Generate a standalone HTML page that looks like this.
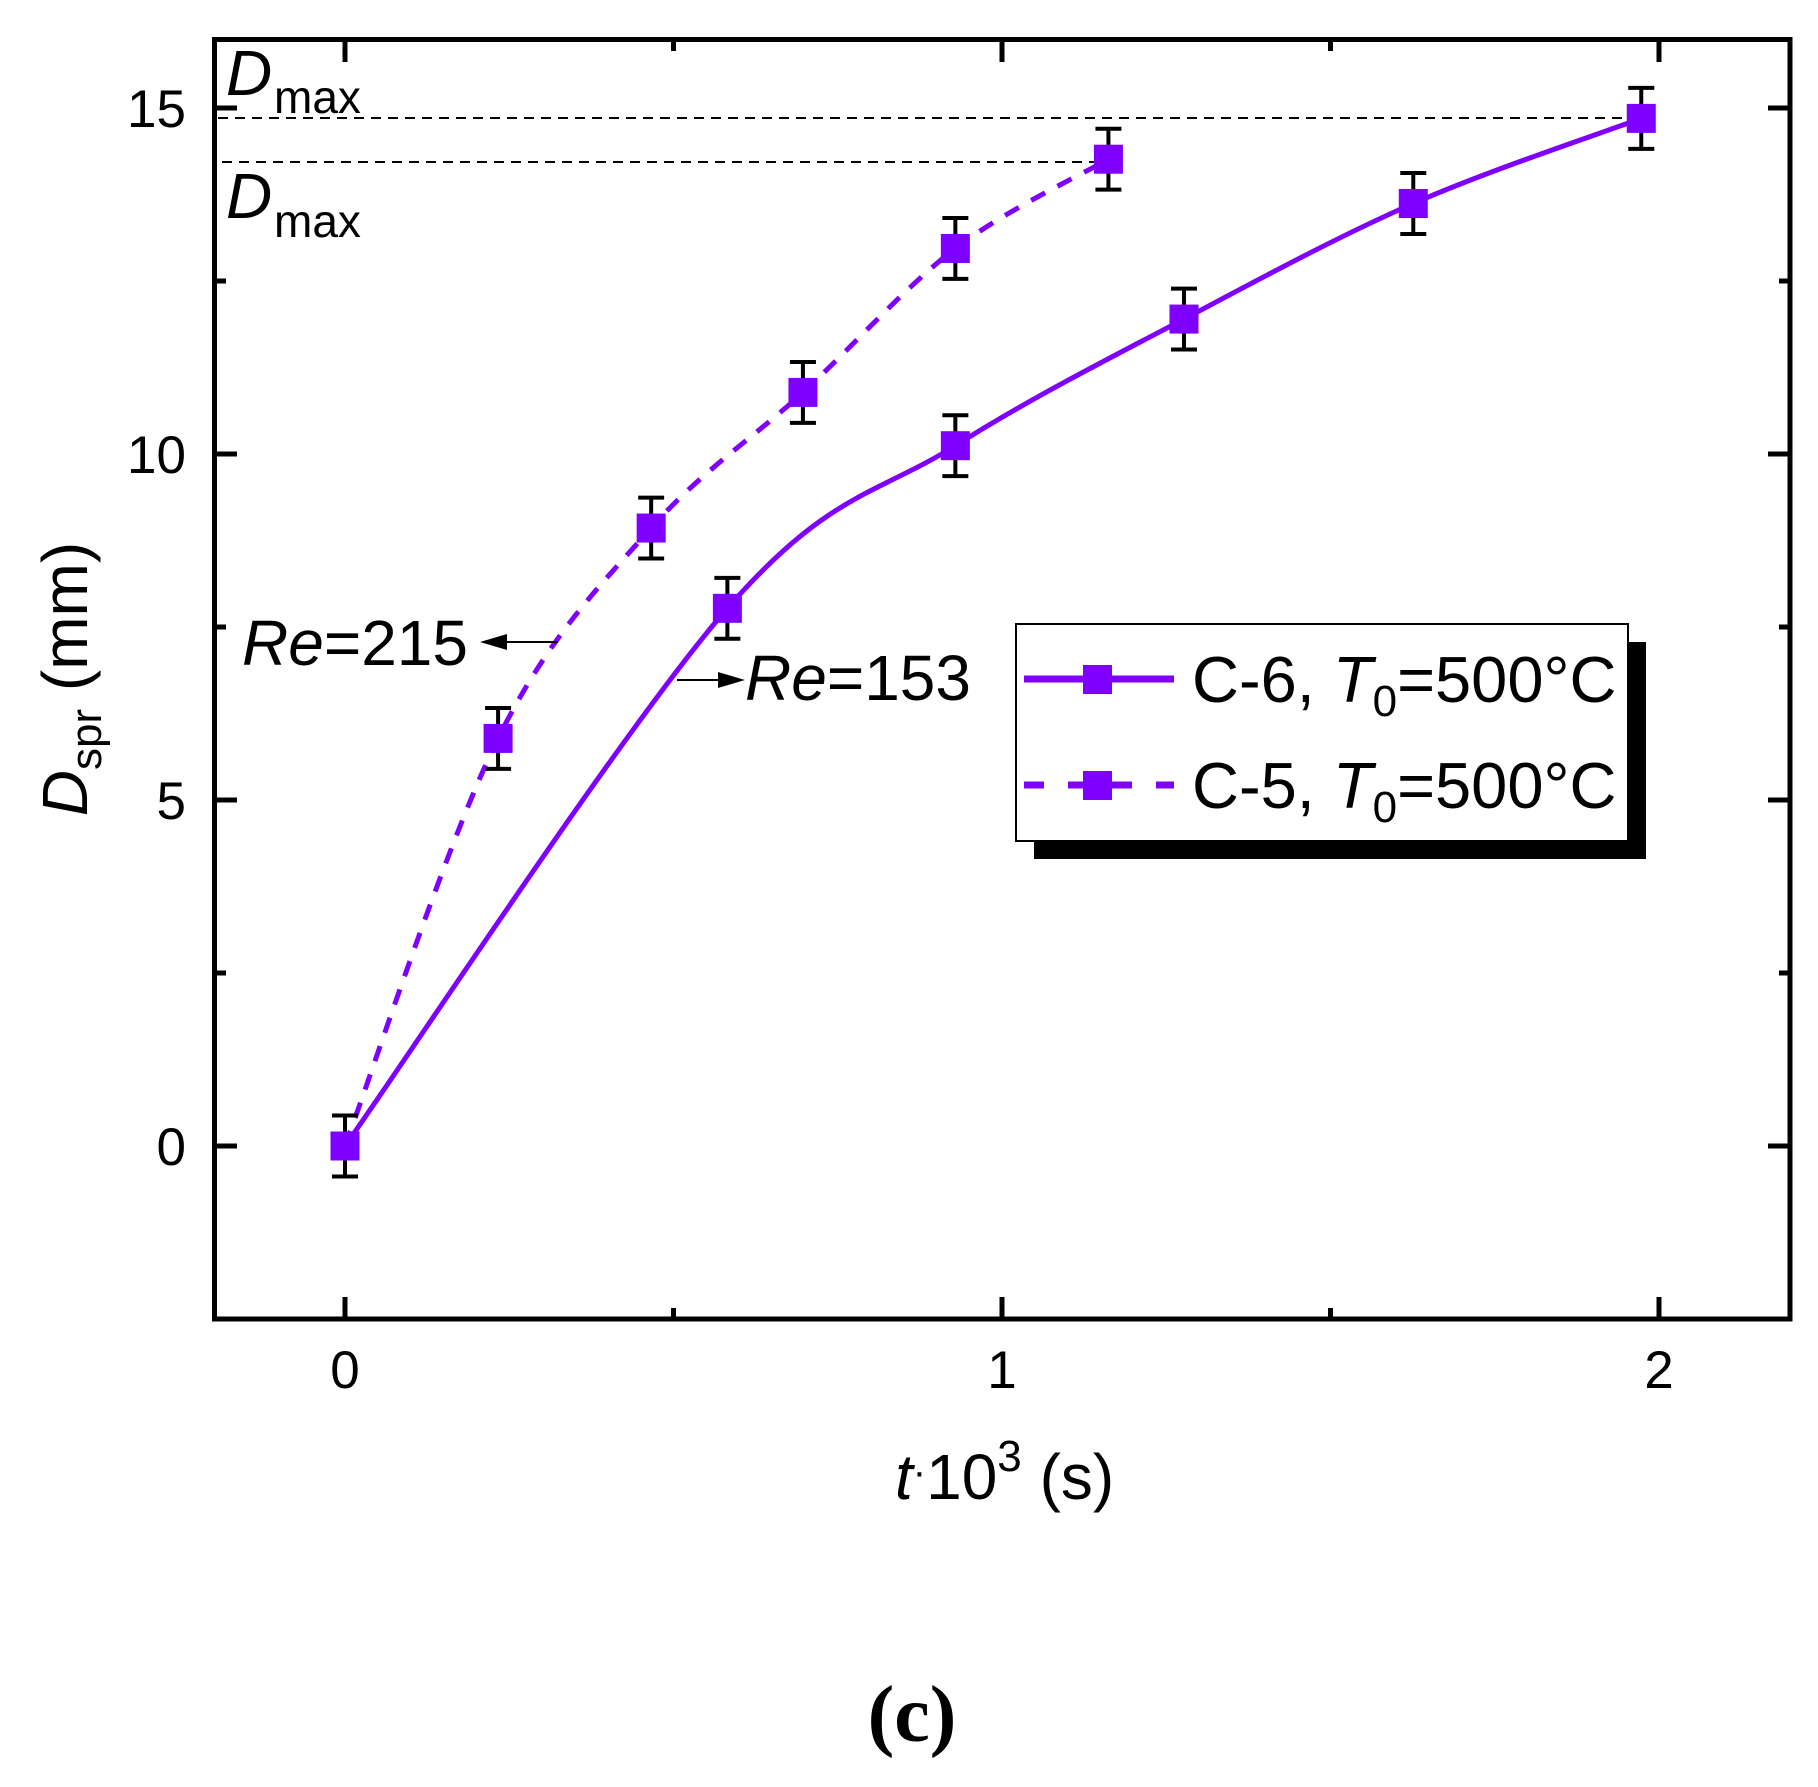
<!DOCTYPE html>
<html><head><meta charset="utf-8"><style>
html,body{margin:0;padding:0;background:#fff}
svg{display:block}
text{font-family:"Liberation Sans",Arial,sans-serif;fill:#000}
</style></head><body>
<svg id="s" width="1818" height="1787" viewBox="0 0 1818 1787" xmlns="http://www.w3.org/2000/svg">
<rect width="1818" height="1787" fill="#fff"/>
<!-- dashed Dmax lines -->
<line x1="218" y1="118" x2="1630" y2="118" stroke="#000" stroke-width="2" stroke-dasharray="10,7"/>
<line x1="222" y1="162" x2="1095" y2="162" stroke="#000" stroke-width="2" stroke-dasharray="10,7"/>
<g id="curves"></g>
<g id="pts"></g>
<!-- frame -->
<rect x="214.5" y="39.5" width="1575.5" height="1279.5" fill="none" stroke="#000" stroke-width="5"/>
<g stroke="#000" stroke-width="5" id="ticks"></g>
<!-- tick labels -->
<g font-size="53" text-anchor="end">
<text x="186" y="1165">0</text>
<text x="186" y="819">5</text>
<text x="186" y="473">10</text>
<text x="186" y="127">15</text>
</g>
<g font-size="53" text-anchor="middle">
<text x="345" y="1388">0</text>
<text x="1002" y="1388">1</text>
<text x="1659" y="1388">2</text>
</g>
<!-- Dmax labels -->
<text x="226" y="95" font-size="64" font-style="italic">D</text>
<text x="274" y="113" font-size="46">max</text>
<text x="226" y="218" font-size="64" font-style="italic">D</text>
<text x="274" y="237" font-size="46">max</text>
<!-- axis titles -->
<text x="895" y="1499" font-size="64"><tspan font-style="italic">t</tspan><tspan font-size="40" dy="-14">·</tspan><tspan dy="14">10</tspan><tspan font-size="44" dy="-28">3</tspan><tspan dy="28"> (s)</tspan></text>
<text transform="translate(87,679) rotate(-90)" text-anchor="middle" font-size="64"><tspan font-style="italic">D</tspan><tspan font-size="44" dy="14">spr</tspan><tspan dy="-14"> (mm)</tspan></text>
<text x="912" y="1741" font-size="80" text-anchor="middle" style="font-family:'Liberation Serif',serif;font-weight:bold">(c)</text>
<!-- Re annotations -->
<text x="242" y="665" font-size="64"><tspan font-style="italic">Re</tspan>=215</text>
<line x1="500" y1="642" x2="558" y2="642" stroke="#000" stroke-width="2"/>
<polygon points="480,642 507,634 507,650" fill="#000"/>
<text x="745" y="700" font-size="64"><tspan font-style="italic">Re</tspan>=153</text>
<line x1="677" y1="680" x2="722" y2="680" stroke="#000" stroke-width="2"/>
<polygon points="745,680 718,672 718,688" fill="#000"/>
<!-- legend -->
<rect x="1034" y="642" width="612" height="217" fill="#000"/>
<rect x="1016" y="624" width="612" height="217" fill="#fff" stroke="#000" stroke-width="2"/>
<line x1="1024" y1="679" x2="1174" y2="679" stroke="#7f00ff" stroke-width="7"/>
<rect x="1083" y="665" width="29" height="29" fill="#7f00ff"/>
<line x1="1024" y1="785" x2="1174" y2="785" stroke="#7f00ff" stroke-width="7" stroke-dasharray="20,24"/>
<rect x="1083" y="771" width="29" height="29" fill="#7f00ff"/>
<g font-size="65">
<text x="1192" y="702">C-6, <tspan font-style="italic">T</tspan><tspan font-size="44" dy="14">0</tspan><tspan dy="-14">=500°C</tspan></text>
<text x="1192" y="808">C-5, <tspan font-style="italic">T</tspan><tspan font-size="44" dy="14">0</tspan><tspan dy="-14">=500°C</tspan></text>
</g>
</svg>
<script>
var NS="http://www.w3.org/2000/svg";
function X(v){return 345+657*v}function Y(v){return 1146-69.2*v}
function el(t,a,p){var e=document.createElementNS(NS,t);for(var k in a)e.setAttribute(k,a[k]);p.appendChild(e);return e}
var c6=[[0,0],[0.582,7.77],[0.929,10.12],[1.277,11.95],[1.626,13.62],[1.973,14.85]];
var c5=[[0,0],[0.233,5.89],[0.466,8.93],[0.697,10.89],[0.929,12.97],[1.162,14.26]];
function path(d){var p=d.map(function(q){return[X(q[0]),Y(q[1])]});var s="M"+p[0][0]+","+p[0][1];
for(var i=0;i<p.length-1;i++){var p0=p[i-1]||p[i],p1=p[i],p2=p[i+1],p3=p[i+2]||p2;
var t=6;s+=" C"+(p1[0]+(p2[0]-p0[0])/t)+","+(p1[1]+(p2[1]-p0[1])/t)+" "+(p2[0]-(p3[0]-p1[0])/t)+","+(p2[1]-(p3[1]-p1[1])/t)+" "+p2[0]+","+p2[1];}return s}
var cg=document.getElementById("curves");
el("path",{d:path(c6),fill:"none",stroke:"#7f00ff","stroke-width":5},cg);
el("path",{d:path(c5),fill:"none",stroke:"#7f00ff","stroke-width":5,"stroke-dasharray":"16,14"},cg);
var pg=document.getElementById("pts");
function pts(d){d.forEach(function(q,i){var x=X(q[0]),y=Y(q[1]),e=0.44*69.2;
el("line",{x1:x,y1:y-e,x2:x,y2:y+e,stroke:"#000","stroke-width":4},pg);
el("line",{x1:x-13,y1:y-e,x2:x+13,y2:y-e,stroke:"#000","stroke-width":4},pg);
el("line",{x1:x-13,y1:y+e,x2:x+13,y2:y+e,stroke:"#000","stroke-width":4},pg);
el("rect",{x:x-14.5,y:y-14.5,width:29,height:29,fill:"#7f00ff"},pg);});}
pts(c6);pts(c5);
var tg=document.getElementById("ticks");
[0,1,2].forEach(function(v){var x=X(v);el("line",{x1:x,y1:1319,x2:x,y2:1297},tg);el("line",{x1:x,y1:39.5,x2:x,y2:62},tg);});
[0.5,1.5].forEach(function(v){var x=X(v);el("line",{x1:x,y1:1319,x2:x,y2:1308},tg);el("line",{x1:x,y1:39.5,x2:x,y2:51},tg);});
[0,5,10,15].forEach(function(v){var y=Y(v);el("line",{x1:214.5,y1:y,x2:237,y2:y},tg);el("line",{x1:1790,y1:y,x2:1768,y2:y},tg);});
[2.5,7.5,12.5].forEach(function(v){var y=Y(v);el("line",{x1:214.5,y1:y,x2:226,y2:y},tg);el("line",{x1:1790,y1:y,x2:1779,y2:y},tg);});
</script>
</body></html>
